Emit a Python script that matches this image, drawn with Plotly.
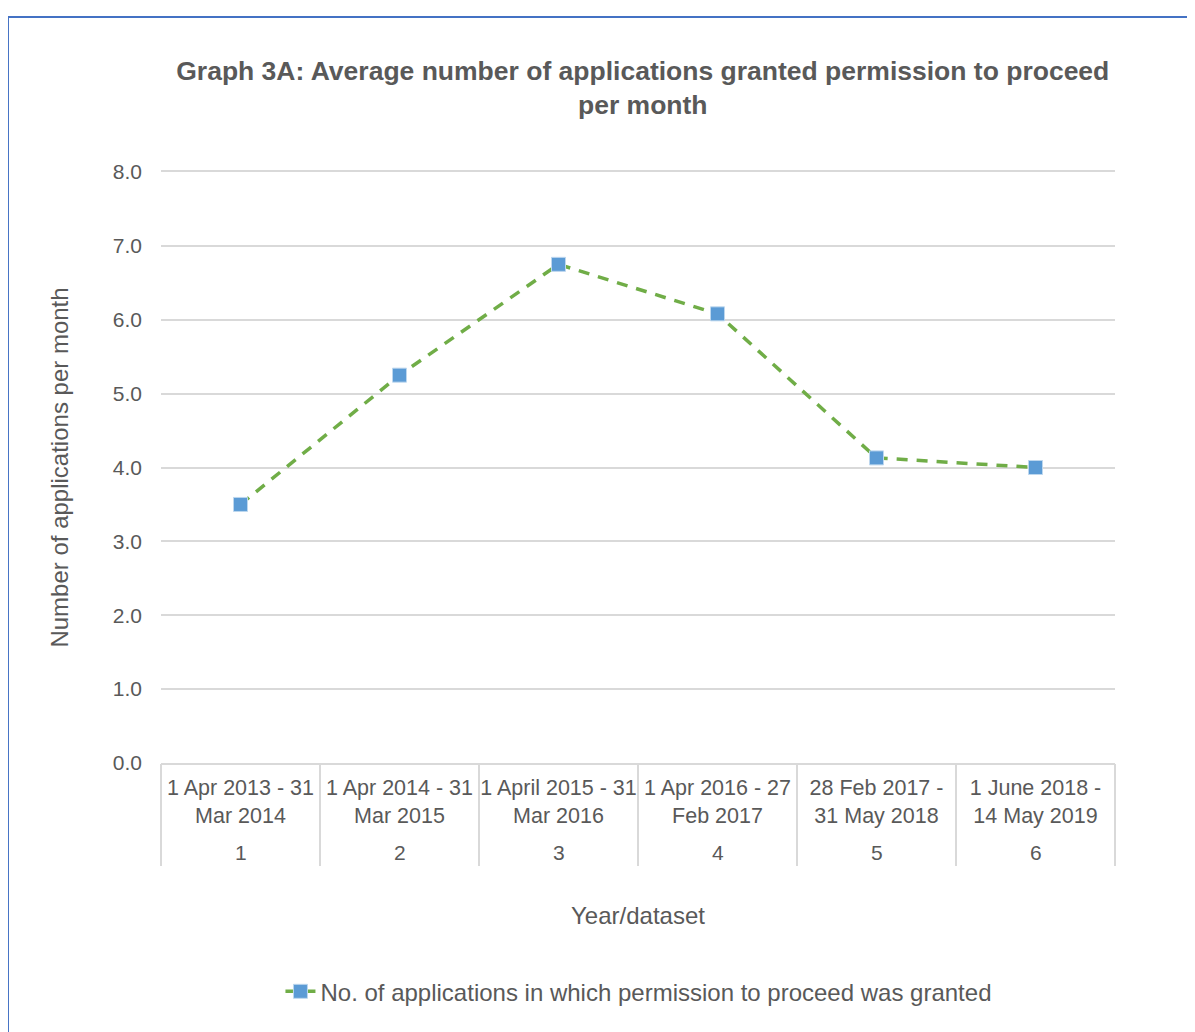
import plotly.graph_objects as go

# data
dataset_no = ["1", "2", "3", "4", "5", "6"]
period_labels = [
    "1 Apr 2013 - 31<br>Mar 2014",
    "1 Apr 2014 - 31<br>Mar 2015",
    "1 April 2015 - 31<br>Mar 2016",
    "1 Apr 2016 - 27<br>Feb 2017",
    "28 Feb 2017 -<br>31 May 2018",
    "1 June 2018 -<br>14 May 2019",
]
avg_granted = [3.5, 5.25, 6.75, 6.08, 4.13, 4.0]

TEXT = "#595959"
GRID = "#D9D9D9"
FONT = "Liberation Sans, Arial, sans-serif"

fig = go.Figure()
fig.add_trace(go.Scatter(
    x=period_labels,
    y=avg_granted,
    mode="lines+markers",
    name="No. of applications in which permission to proceed was granted",
    line=dict(color="#70AD47", width=3.5, dash="11px,9px"),
    marker=dict(symbol="square", size=14, color="#5B9BD5",
                line=dict(color="#BDD7EE", width=1)),
))
# invisible copy on a second x axis, only used to draw the category dividers
fig.add_trace(go.Scatter(
    x=period_labels, y=avg_granted, xaxis="x2", mode="markers",
    marker=dict(opacity=0), showlegend=False, hoverinfo="skip",
))

# the dataset numbers, second row of the category labels
for label, num in zip(period_labels, dataset_no):
    fig.add_annotation(
        x=label, xref="x", y=-0.1506, yref="paper", yanchor="middle",
        text=num, showarrow=False, font=dict(size=21, color=TEXT),
    )

cat_range = [-0.5, len(period_labels) - 0.5]

fig.update_layout(
    width=1195,
    height=1032,
    paper_bgcolor="white",
    plot_bgcolor="white",
    margin=dict(l=153, r=88, t=164, b=277),
    font=dict(family=FONT, color=TEXT, size=21),
    title=dict(
        text="<b>Graph 3A: Average number of applications granted permission to proceed<br>per month</b>",
        font=dict(size=26.5, color=TEXT),
        x=0.505, xref="paper", xanchor="center",
        y=0.9305, yref="container", yanchor="middle",
    ),
    showlegend=True,
    legend=dict(
        orientation="h",
        x=0.501, xanchor="center",
        y=-0.387, yanchor="middle",
        font=dict(size=24, color=TEXT),
        bgcolor="rgba(0,0,0,0)",
    ),
    shapes=[dict(
        type="rect", xref="paper", yref="paper",
        x0=-0.1604, x1=1.09, y0=-0.47, y1=1.2623,
        line=dict(color="#4472C4", width=2), layer="below",
    )],
    xaxis=dict(
        type="category",
        categoryorder="array", categoryarray=period_labels,
        range=cat_range, tickangle=0,
        showline=True, mirror=True, linecolor=GRID, linewidth=1.5,
        showgrid=False, ticks="",
        ticklabelstandoff=4,
        tickfont=dict(size=21.5, color=TEXT),
        title=dict(text="Year/dataset", font=dict(size=24, color=TEXT), standoff=81),
    ),
    xaxis2=dict(
        type="category", overlaying="x", anchor="y", side="bottom",
        categoryorder="array", categoryarray=period_labels,
        range=cat_range,
        showline=False, showgrid=False, showticklabels=False,
        ticks="outside", tickson="boundaries", ticklen=102,
        tickcolor=GRID, tickwidth=1.5,
    ),
    yaxis=dict(
        range=[0, 8], dtick=1, tickformat=".1f",
        showgrid=True, gridcolor=GRID, gridwidth=1.5,
        zeroline=False, showline=False,
        ticklabelstandoff=18,
        tickfont=dict(size=21, color=TEXT),
        title=dict(text="Number of applications per month", font=dict(size=24, color=TEXT), standoff=37),
    ),
)

fig.write_html("out.html")
